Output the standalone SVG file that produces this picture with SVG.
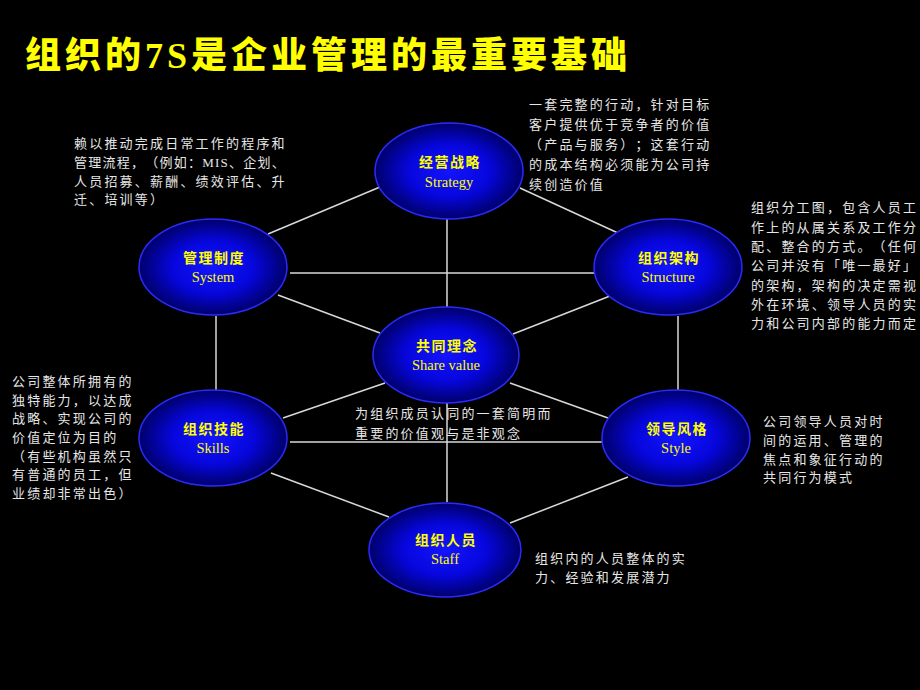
<svg xmlns="http://www.w3.org/2000/svg" width="920" height="690" viewBox="0 0 920 690">
<defs>
<radialGradient id="g" cx="50%" cy="50%" r="50%">
<stop offset="0" stop-color="#1414ff"/>
<stop offset="0.55" stop-color="#0606dc"/>
<stop offset="1" stop-color="#00006a"/>
</radialGradient>
<style>
.node ellipse{fill:url(#g);stroke:#2a2aff;stroke-width:1.5}
.zh{font-family:"Noto Sans CJK SC",sans-serif;font-weight:bold;font-size:14px;fill:#ffff00;text-anchor:middle;letter-spacing:1.5px}
.en{font-family:"Liberation Serif",serif;font-size:14.5px;fill:#ffff00;text-anchor:middle}
.desc{font-family:"Liberation Serif","Noto Sans CJK SC",serif;font-size:13px;fill:#e6e6e6;letter-spacing:2.2px;text-spacing-trim:space-all}
#connectors line{stroke:#d8d8d8;stroke-width:1.5}
.title{font-family:"Liberation Serif","Noto Sans CJK SC",serif;font-weight:900;font-size:36px;fill:#ffff00;letter-spacing:4px}
</style>
</defs>
<rect width="920" height="690" fill="#000"/>
<text class="title" x="25" y="68">组织的7S是企业管理的最重要基础</text>
<g id="connectors">
<line x1="268" y1="234" x2="380" y2="187"/>
<line x1="520" y1="188" x2="618" y2="233"/>
<line x1="447" y1="219" x2="447" y2="307"/>
<line x1="290" y1="273" x2="595" y2="273"/>
<line x1="278" y1="295" x2="380" y2="333"/>
<line x1="513" y1="334" x2="610" y2="296"/>
<line x1="216" y1="316" x2="216" y2="390"/>
<line x1="678" y1="316" x2="678" y2="390"/>
<line x1="283" y1="418" x2="385" y2="383"/>
<line x1="510" y1="383" x2="608" y2="418"/>
<line x1="290" y1="442" x2="602" y2="442"/>
<line x1="447" y1="403" x2="447" y2="502"/>
<line x1="271" y1="473" x2="389" y2="517"/>
<line x1="628" y1="477" x2="510" y2="523"/>
</g>
<g id="strategy" class="node"><ellipse cx="449" cy="171" rx="74" ry="48"/><text class="zh" x="450" y="167">经营战略</text><text class="en" x="449" y="187">Strategy</text></g>
<g id="system" class="node"><ellipse cx="213" cy="267" rx="74" ry="48"/><text class="zh" x="214" y="263">管理制度</text><text class="en" x="213" y="282">System</text></g>
<g id="structure" class="node"><ellipse cx="668" cy="267" rx="74" ry="48"/><text class="zh" x="669" y="263">组织架构</text><text class="en" x="668" y="282">Structure</text></g>
<g id="sharevalue" class="node"><ellipse cx="446" cy="355" rx="73" ry="48"/><text class="zh" x="447" y="351">共同理念</text><text class="en" x="446" y="370">Share value</text></g>
<g id="skills" class="node"><ellipse cx="213" cy="438" rx="74" ry="48"/><text class="zh" x="214" y="434">组织技能</text><text class="en" x="213" y="453">Skills</text></g>
<g id="style" class="node"><ellipse cx="676" cy="438" rx="74" ry="48"/><text class="zh" x="677" y="434">领导风格</text><text class="en" x="676" y="453">Style</text></g>
<g id="staff" class="node"><ellipse cx="445" cy="550" rx="76" ry="47"/><text class="zh" x="446" y="545">组织人员</text><text class="en" x="445" y="564">Staff</text></g>
<g id="desc-strategy" class="desc">
<text x="529" y="109">一套完整的行动，针对目标</text>
<text x="529" y="129">客户提供优于竞争者的价值</text>
<text x="529" y="149">（产品与服务）；这套行动</text>
<text x="529" y="169">的成本结构必须能为公司持</text>
<text x="529" y="189">续创造价值</text>
</g>
<g id="desc-system" class="desc">
<text x="74" y="148">赖以推动完成日常工作的程序和</text>
<text x="74" y="167" textLength="213" lengthAdjust="spacing">管理流程，（例如：MIS、企划、</text>
<text x="74" y="186">人员招募、薪酬、绩效评估、升</text>
<text x="74" y="204">迁、培训等）</text>
</g>
<g id="desc-structure" class="desc">
<text x="751" y="212">组织分工图，包含人员工</text>
<text x="751" y="232">作上的从属关系及工作分</text>
<text x="751" y="251">配、整合的方式。（任何</text>
<text x="751" y="270">公司并没有「唯一最好」</text>
<text x="751" y="290">的架构，架构的决定需视</text>
<text x="751" y="309">外在环境、领导人员的实</text>
<text x="751" y="328">力和公司内部的能力而定</text>
</g>
<g id="desc-skills" class="desc">
<text x="12" y="386">公司整体所拥有的</text>
<text x="12" y="405">独特能力，以达成</text>
<text x="12" y="423">战略、实现公司的</text>
<text x="12" y="442">价值定位为目的</text>
<text x="12" y="461">（有些机构虽然只</text>
<text x="12" y="479">有普通的员工，但</text>
<text x="12" y="498">业绩却非常出色）</text>
</g>
<g id="desc-share" class="desc">
<text x="355" y="418">为组织成员认同的一套简明而</text>
<text x="355" y="438">重要的价值观与是非观念</text>
</g>
<g id="desc-style" class="desc">
<text x="763" y="426">公司领导人员对时</text>
<text x="763" y="445">间的运用、管理的</text>
<text x="763" y="464">焦点和象征行动的</text>
<text x="763" y="482">共同行为模式</text>
</g>
<g id="desc-staff" class="desc">
<text x="535" y="563">组织内的人员整体的实</text>
<text x="535" y="582">力、经验和发展潜力</text>
</g>
</svg>
